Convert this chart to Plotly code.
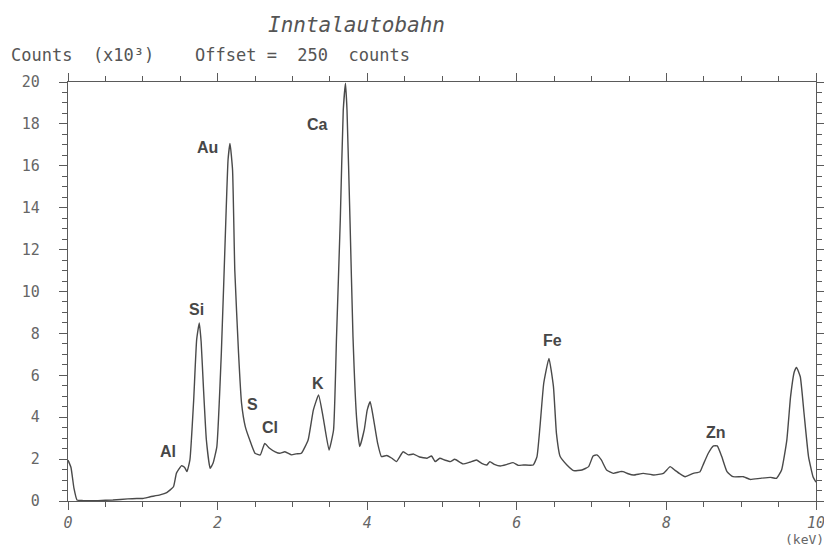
import plotly.graph_objects as go

# Spectrum: energy (keV) and counts (x10^3)
energy = [0.00, 0.04, 0.08, 0.12, 0.20, 0.40, 0.60, 0.80, 0.92, 1.00, 1.10, 1.23, 1.32, 1.41, 1.45,
          1.52, 1.56, 1.59, 1.63, 1.68, 1.72, 1.755, 1.78, 1.81, 1.85, 1.90, 1.94, 1.99, 2.05, 2.11,
          2.14, 2.166, 2.20, 2.23, 2.28, 2.32, 2.37, 2.43, 2.50, 2.57, 2.63, 2.69, 2.77, 2.83, 2.90,
          2.99, 3.05, 3.12, 3.21, 3.28, 3.35, 3.41, 3.49, 3.55, 3.59, 3.64, 3.68, 3.71, 3.73, 3.77,
          3.81, 3.86, 3.90, 3.96, 4.00, 4.04, 4.08, 4.14, 4.19, 4.26, 4.33, 4.39, 4.48, 4.55, 4.62,
          4.70, 4.80, 4.86, 4.91, 4.97, 5.04, 5.11, 5.17, 5.28, 5.37, 5.46, 5.53, 5.60, 5.64, 5.70,
          5.78, 5.87, 5.95, 6.02, 6.09, 6.22, 6.27, 6.31, 6.36, 6.43, 6.49, 6.53, 6.58, 6.67, 6.76,
          6.87, 6.96, 7.02, 7.07, 7.13, 7.20, 7.29, 7.38, 7.42, 7.49, 7.56, 7.69, 7.83, 7.96, 8.05,
          8.11, 8.18, 8.25, 8.36, 8.45, 8.49, 8.56, 8.63, 8.68, 8.74, 8.81, 8.89, 9.03, 9.12, 9.25,
          9.39, 9.47, 9.54, 9.61, 9.66, 9.71, 9.74, 9.79, 9.84, 9.90, 9.96, 10.00]
counts = [1.95, 1.60, 0.60, 0.05, 0.02, 0.02, 0.05, 0.10, 0.12, 0.12, 0.20, 0.29, 0.40, 0.68, 1.33,
          1.69, 1.60, 1.40, 1.96, 4.80, 7.70, 8.50, 7.60, 5.46, 2.91, 1.56, 1.81, 2.60, 7.06, 13.40,
          16.30, 17.07, 15.80, 11.00, 7.06, 4.67, 3.55, 2.91, 2.28, 2.20, 2.75, 2.53, 2.35, 2.28, 2.35,
          2.20, 2.25, 2.28, 2.91, 4.34, 5.06, 4.02, 2.43, 3.39, 7.84, 13.40, 18.66, 19.94, 18.66, 13.40,
          7.84, 3.87, 2.60, 3.39, 4.34, 4.74, 4.02, 2.75, 2.12, 2.17, 2.04, 1.88, 2.35, 2.20, 2.24,
          2.10, 2.04, 2.15, 1.88, 2.04, 1.95, 1.88, 1.99, 1.77, 1.85, 1.96, 1.80, 1.72, 1.88, 1.75,
          1.67, 1.75, 1.83, 1.70, 1.72, 1.72, 2.12, 3.55, 5.62, 6.81, 5.46, 3.23, 2.12, 1.72, 1.45,
          1.48, 1.64, 2.15, 2.20, 1.96, 1.48, 1.32, 1.40, 1.40, 1.30, 1.24, 1.32, 1.24, 1.32, 1.64,
          1.48, 1.30, 1.16, 1.32, 1.40, 1.72, 2.28, 2.63, 2.63, 2.12, 1.40, 1.16, 1.16, 1.03, 1.08,
          1.13, 1.08, 1.48, 2.91, 4.98, 6.17, 6.38, 5.93, 4.19, 2.12, 1.16, 0.90]

# Element labels
elements = ["Al", "Si", "Au", "S", "Cl", "K", "Ca", "Fe", "Zn"]
element_pos = [(1.34, 2.34), (1.72, 9.12), (1.86, 16.85), (2.46, 4.63), (2.70, 3.53),
               (3.34, 5.63), (3.34, 17.95), (6.48, 7.68), (8.66, 3.25)]

x_tickvals = [0, 2, 4, 6, 8, 10]
y_tickvals = [0, 2, 4, 6, 8, 10, 12, 14, 16, 18, 20]

GREY = "#5a5a5a"
MONO = "DejaVu Sans Mono"

fig = go.Figure()
fig.add_trace(go.Scatter(x=energy, y=counts, mode="lines",
                         line=dict(color="#4a4a4a", width=1.4, shape="spline", smoothing=0.4),
                         hoverinfo="skip", showlegend=False))

for name, (ex, cy) in zip(elements, element_pos):
    fig.add_annotation(x=ex, y=cy, text="<b>%s</b>" % name, showarrow=False,
                       font=dict(family="Liberation Sans", size=16, color="#474747"),
                       xref="x", yref="y")

axis_common = dict(showline=True, linecolor=GREY, linewidth=1.3, mirror="allticks",
                   ticks="outside", tickcolor=GREY, tickwidth=1.1, showgrid=False, zeroline=False,
                   automargin=False, ticklabeloverflow="allow")

fig.update_xaxes(range=[0, 10], tickvals=x_tickvals, ticklen=8,
                 tickfont=dict(family=MONO, size=15, color="#666666", style="italic"),
                 minor=dict(dtick=0.5, tick0=0, ticklen=5, ticks="outside", tickcolor=GREY, showgrid=False),
                 **axis_common)
fig.update_yaxes(range=[0, 20], tickvals=y_tickvals, ticklen=8, ticklabelstandoff=16,
                 tickfont=dict(family=MONO, size=15, color="#666666"),
                 minor=dict(dtick=0.5, tick0=0, ticklen=5, ticks="outside", tickcolor=GREY, showgrid=False),
                 **axis_common)

fig.add_annotation(xref="paper", yref="paper", x=0.386, y=1.136, text="Inntalautobahn",
                   showarrow=False, xanchor="center", yanchor="middle",
                   font=dict(family=MONO, size=21, color="#555555", style="italic"))
fig.add_annotation(xref="paper", yref="paper", x=-0.079, y=1.064, text="Counts  (x10³)",
                   showarrow=False, xanchor="left", yanchor="middle",
                   font=dict(family=MONO, size=17, color="#555555"))
fig.add_annotation(xref="paper", yref="paper", x=0.167, y=1.064, text="Offset =  250  counts",
                   showarrow=False, xanchor="left", yanchor="middle",
                   font=dict(family=MONO, size=17, color="#555555"))
fig.add_annotation(xref="paper", yref="paper", x=0.985, y=-0.093, text="(keV)",
                   showarrow=False, xanchor="center", yanchor="middle",
                   font=dict(family=MONO, size=13, color="#666666"))

fig.update_layout(width=824, height=552, margin=dict(l=68, r=8, t=82, b=51),
                  paper_bgcolor="white", plot_bgcolor="white")

# remove the page's default body margin so the figure fills the window exactly
fig.write_html("out.html", config={"displayModeBar": False},
               post_script="document.body.style.margin='0';"
                           "document.documentElement.style.overflow='hidden';")
